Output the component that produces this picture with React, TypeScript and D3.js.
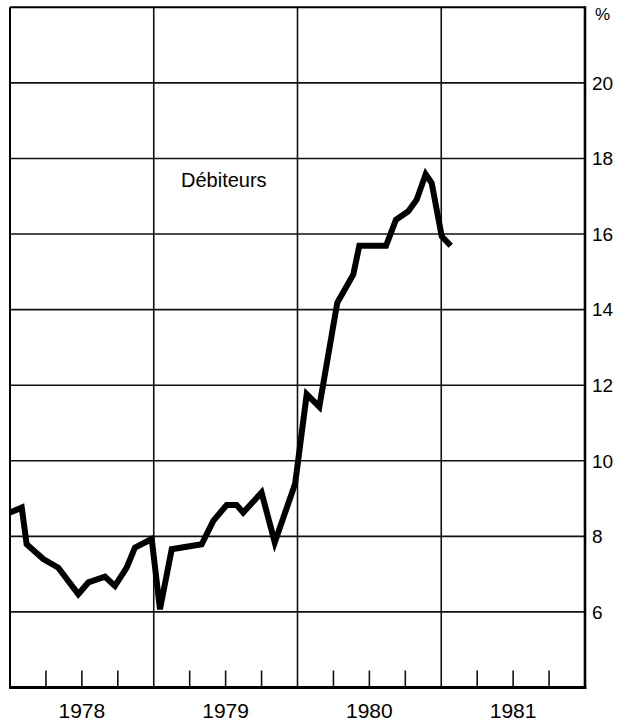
import { scaleLinear, line, range } from "d3";

// months counted from January 1978 (fractional), rate in %
const months = [
	0, 0.98, 1.39, 2.78, 4.03, 5.7, 6.54, 7.93, 8.76, 9.74, 10.43, 11.83, 12.52,
	13.5, 16.0, 16.97, 18.09, 18.92, 19.47, 21.0, 22.1, 23.8, 24.77, 25.82, 27.32,
	28.66, 29.16, 31.39, 32.22, 33.25, 33.95, 34.7, 35.2, 36.04, 36.79,
];
const rates = [
	8.63, 8.76, 7.79, 7.4, 7.17, 6.47, 6.78, 6.93, 6.69, 7.17, 7.7, 7.93, 6.07,
	7.66, 7.79, 8.41, 8.83, 8.83, 8.63, 9.16, 7.84, 9.39, 11.76, 11.43, 14.18,
	14.93, 15.69, 15.69, 16.38, 16.6, 16.91, 17.58, 17.35, 15.94, 15.69,
];
const years = [1978, 1979, 1980, 1981];
const yTicks = [6, 8, 10, 12, 14, 16, 18, 20];
const seriesLabel = "Débiteurs";

const width = 630;
const height = 724;
const font = "'Liberation Sans', Arial, sans-serif";

export default function App() {
	let margin = { left: 10, right: 585, top: 7.3, bottom: 687.5 };

	let xScale = scaleLinear().domain([1978, 1982]).range([margin.left, margin.right]);
	let yScale = scaleLinear().domain([4, 22]).range([margin.bottom, margin.top]);

	let points = months.map((m, i) => ({ t: 1978 + m / 12, v: rates[i] }));
	let lineGenerator = line<{ t: number; v: number }>()
		.x((d) => xScale(d.t))
		.y((d) => yScale(d.v));

	let quarterTicks = range(1978.25, 1982, 0.25).filter((q) => q % 1 !== 0);

	return (
		<svg
			width={width}
			height={height}
			style={{ position: "absolute", left: 0, top: 0, background: "#fff" }}
		>
			<g className="grid" stroke="#111">
				{yTicks.map((t) => (
					<line
						key={t}
						x1={margin.left}
						x2={margin.right}
						y1={yScale(t)}
						y2={yScale(t)}
						strokeWidth={1.6}
					/>
				))}
				{years.slice(1).map((y) => (
					<line
						key={y}
						x1={xScale(y)}
						x2={xScale(y)}
						y1={margin.top}
						y2={margin.bottom}
						strokeWidth={1.6}
					/>
				))}
				{quarterTicks.map((q) => (
					<line
						key={q}
						x1={xScale(q)}
						x2={xScale(q)}
						y1={margin.bottom - 17}
						y2={margin.bottom}
						strokeWidth={1.6}
					/>
				))}
			</g>
			<g className="frame" stroke="#000" fill="none">
				<line x1={margin.left} x2={margin.right} y1={margin.top} y2={margin.top} strokeWidth={2} />
				<line x1={margin.left} x2={margin.left} y1={margin.top} y2={margin.bottom} strokeWidth={2} />
				<line x1={margin.right} x2={margin.right} y1={margin.top - 1} y2={margin.bottom + 1.5} strokeWidth={2.6} />
				<line x1={margin.left - 1} x2={margin.right + 1.3} y1={margin.bottom} y2={margin.bottom} strokeWidth={3} />
			</g>
			<path
				d={lineGenerator(points) ?? ""}
				fill="none"
				stroke="#000"
				strokeWidth={6}
				strokeLinejoin="miter"
				strokeMiterlimit={4}
			/>
			<g className="yLabels" fontFamily={font} fontSize={19} fill="#000">
				{yTicks.map((t) => (
					<text key={t} x={margin.right + 7} y={yScale(t)} dy="0.36em">
						{t}
					</text>
				))}
				<text x={margin.right + 10} y={20} fontSize={17}>
					%
				</text>
			</g>
			<g className="xLabels" fontFamily={font} fontSize={21} fill="#000" textAnchor="middle">
				{years.map((y) => (
					<text key={y} x={xScale(y + 0.5)} y={718}>
						{y}
					</text>
				))}
			</g>
			<text x={181} y={187} fontFamily={font} fontSize={20} fill="#000">
				{seriesLabel}
			</text>
		</svg>
	);
}
